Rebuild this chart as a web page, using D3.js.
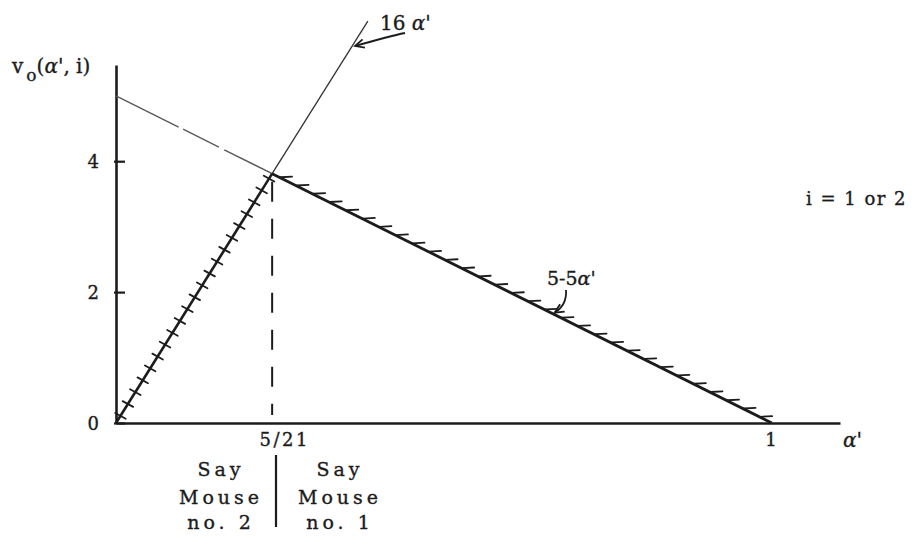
<!DOCTYPE html>
<html>
<head>
<meta charset="utf-8">
<script src="https://cdn.jsdelivr.net/npm/d3@7"></script>
<style>
  html, body { margin: 0; padding: 0; background: #fff; }
  svg { display: block; }
  text { font-family: "DejaVu Serif", "Liberation Serif", serif; fill: #1c1c1c; stroke: #1c1c1c; stroke-width: 0.35px; }
</style>
</head>
<body>
<svg id="chart" width="919" height="538"></svg>
<script>
// ---- values ----
const yTicks = [0, 2, 4];
const xTickValues = [5 / 21, 1];
const xTickLabels = ["5/21", "1"];
const xMax = 1.104;   // end of the α' axis
const yMax = 5.47;    // top of the v axis

// v = 16α' : hatched part up to the crossing, thin continuation above it
const risingHatched = [[0, 0], [5 / 21, 80 / 21]];
const risingThin = [[5 / 21, 80 / 21], [0.384, 6.14]];
// v = 5 - 5α' : faint part before the crossing, hatched part after it
const fallingFaint = [[0, 5], [5 / 21, 80 / 21]];
const fallingHatched = [[5 / 21, 80 / 21], [1, 0]];
// crossing point
const crossing = [5 / 21, 80 / 21];
// points on each line that the annotation arrows point to
const risingArrowTarget = [0.36, 5.76];
const fallingArrowTarget = [0.669, 1.655];

const ink = "#1c1c1c";
const svg = d3.select("#chart");

const x = d3.scaleLinear().domain([0, xMax]).range([116, 840]);
const y = d3.scaleLinear().domain([0, yMax]).range([423, 65]);
const line = d3.line().x(d => x(d[0])).y(d => y(d[1]));

// ---- axes ----
const yAxis = svg.append("g")
  .attr("transform", `translate(${x(0)},0)`)
  .call(d3.axisLeft(y).tickValues(yTicks).tickSizeInner(-11).tickSizeOuter(0).tickPadding(17)
    .tickFormat(d3.format("d")));
yAxis.select(".domain").attr("stroke", ink).attr("stroke-width", 2.6);
yAxis.selectAll(".tick line").attr("stroke", ink).attr("stroke-width", 2.2)
  .attr("transform", "translate(-2,0)");
yAxis.selectAll(".tick text").attr("font-size", 18).attr("font-family", "DejaVu Serif").attr("fill", ink)
  .attr("dy", "0.36em");

const xAxis = svg.append("g")
  .attr("transform", `translate(0,${y(0)})`)
  .call(d3.axisBottom(x).tickValues(xTickValues).tickSize(0).tickPadding(10)
    .tickFormat((d, i) => xTickLabels[i]));
xAxis.select(".domain").attr("stroke", ink).attr("stroke-width", 2.6);
xAxis.selectAll(".tick text").attr("font-size", 18).attr("font-family", "DejaVu Serif").attr("fill", ink)
  .attr("letter-spacing", 2.5)
  .attr("dx", (d, i) => i === 0 ? 12 : 0);

// axis names
const yName = svg.append("text").attr("x", 12).attr("y", 73).attr("font-size", 20);
yName.append("tspan").text("v");
yName.append("tspan").attr("dx", 3).attr("dy", 8).attr("font-size", 17).text("o");
yName.append("tspan").attr("dy", -8).text("(");
yName.append("tspan").attr("font-style", "italic").text("α");
yName.append("tspan").text("', i)");

svg.append("text").attr("x", 843).attr("y", 447).attr("font-size", 20)
  .attr("font-style", "italic").text("α'");

// ---- lines ----
svg.append("path").datum(fallingFaint).attr("d", line)
  .attr("fill", "none").attr("stroke", "#5a5a5a").attr("stroke-width", 1.4)
  .attr("stroke-dasharray", "70,5,40,6,200");

svg.append("path").datum(risingThin).attr("d", line)
  .attr("fill", "none").attr("stroke", "#333").attr("stroke-width", 1.3);

svg.append("path").datum(risingHatched).attr("d", line)
  .attr("fill", "none").attr("stroke", ink).attr("stroke-width", 2.6);
svg.append("path").datum(fallingHatched).attr("d", line)
  .attr("fill", "none").attr("stroke", ink).attr("stroke-width", 2.8);

// hatch marks along a segment, spaced in screen units
function hatch(seg, spacing, dir, before, after, lift) {
  const p0 = [x(seg[0][0]), y(seg[0][1])], p1 = [x(seg[1][0]), y(seg[1][1])];
  const len = Math.hypot(p1[0] - p0[0], p1[1] - p0[1]);
  const n = Math.floor(len / spacing);
  const g = svg.append("g").attr("stroke", ink).attr("stroke-width", 1.8)
    .attr("stroke-linecap", "round").attr("fill", "none");
  const dl = Math.hypot(dir[0], dir[1]);
  const u = [dir[0] / dl, dir[1] / dl];
  for (let k = 1; k <= n; k++) {
    const t = (k * spacing - spacing * 0.4) / len;
    const cx = p0[0] + (p1[0] - p0[0]) * t, cy = p0[1] + (p1[1] - p0[1]) * t - lift;
    g.append("line")
      .attr("x1", cx - u[0] * before).attr("y1", cy - u[1] * before)
      .attr("x2", cx + u[0] * after).attr("y2", cy + u[1] * after);
  }
}
hatch(risingHatched, 14, [1, 0.55], 6, 6, 0);
hatch(fallingHatched, 18.5, [1, -0.05], 2, 10, 1.5);

// dashed drop line at the crossing
svg.append("line")
  .attr("x1", x(crossing[0])).attr("x2", x(crossing[0]))
  .attr("y1", y(crossing[1]) + 8).attr("y2", y(0) - 8)
  .attr("stroke", ink).attr("stroke-width", 2).attr("stroke-dasharray", "20,17");

// ---- annotations ----
function arrowHead(tip, from) {
  const a = Math.atan2(tip[1] - from[1], tip[0] - from[0]);
  const L = 10, w = 0.45;
  const p = d3.path();
  p.moveTo(tip[0] - L * Math.cos(a - w), tip[1] - L * Math.sin(a - w));
  p.lineTo(tip[0], tip[1]);
  p.lineTo(tip[0] - L * Math.cos(a + w), tip[1] - L * Math.sin(a + w));
  svg.append("path").attr("d", p.toString()).attr("fill", "none")
    .attr("stroke", ink).attr("stroke-width", 1.8);
}

// 16α'
const t1 = [x(risingArrowTarget[0]) + 3, y(risingArrowTarget[1])];
const c1 = [390, 36];
svg.append("path")
  .attr("d", `M405,33 Q${c1[0]},${c1[1]} ${t1[0]},${t1[1]}`)
  .attr("fill", "none").attr("stroke", ink).attr("stroke-width", 1.8);
arrowHead(t1, c1);
const lab1 = svg.append("text").attr("x", 380).attr("y", 30).attr("font-size", 20);
lab1.append("tspan").text("16 ");
lab1.append("tspan").attr("font-style", "italic").text("α'");

// 5-5α'
const t2 = [x(fallingArrowTarget[0]), y(fallingArrowTarget[1]) - 2];
const c2 = [567, 305];
svg.append("path")
  .attr("d", `M566,290 Q${c2[0]},${c2[1]} ${t2[0]},${t2[1]}`)
  .attr("fill", "none").attr("stroke", ink).attr("stroke-width", 1.8);
arrowHead(t2, c2);
const lab2 = svg.append("text").attr("x", 547).attr("y", 285).attr("font-size", 19);
lab2.append("tspan").text("5-5");
lab2.append("tspan").attr("font-style", "italic").text("α'");

// i = 1 or 2
svg.append("text").attr("x", 907).attr("y", 205).attr("text-anchor", "end")
  .attr("font-size", 18).attr("letter-spacing", 1.5).text("i = 1 or 2");

// region labels below the axis
svg.append("line").attr("x1", 276).attr("x2", 276).attr("y1", 455).attr("y2", 527)
  .attr("stroke", ink).attr("stroke-width", 2.2);
const leftLabel = ["Say", "Mouse", "no. 2"];
const rightLabel = ["Say", "Mouse", "no. 1"];
const rows = [476, 504, 529];
[[leftLabel, 221], [rightLabel, 340]].forEach(([lines, cx]) => {
  lines.forEach((s, i) => {
    svg.append("text").attr("x", cx).attr("y", rows[i]).attr("text-anchor", "middle")
      .attr("font-size", 19).attr("letter-spacing", 4).text(s);
  });
});
</script>
</body>
</html>
